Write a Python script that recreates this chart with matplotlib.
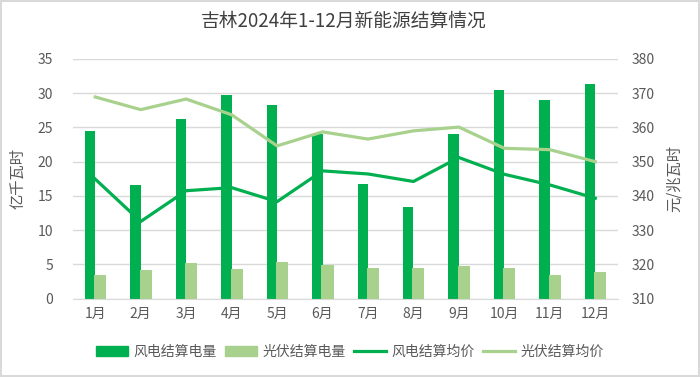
import numpy as np
import matplotlib.pyplot as plt
from matplotlib.patches import Patch
from matplotlib.lines import Line2D

plt.rcParams['font.family'] = ['Noto Sans CJK SC', 'DejaVu Sans']

months = ['1月', '2月', '3月', '4月', '5月', '6月', '7月', '8月', '9月', '10月', '11月', '12月']
wind_energy = [24.5, 16.6, 26.3, 29.8, 28.3, 24.0, 16.7, 13.4, 24.0, 30.4, 29.0, 31.3]
solar_energy = [3.4, 4.15, 5.2, 4.25, 5.4, 4.9, 4.5, 4.5, 4.8, 4.5, 3.4, 3.85]
wind_price = [344.9, 332.5, 341.5, 342.4, 338.3, 347.3, 346.4, 344.2, 351.2, 346.3, 343.2, 339.3]
solar_price = [368.9, 365.2, 368.3, 363.7, 354.6, 358.7, 356.6, 359.0, 360.1, 353.9, 353.5, 350.0]

dark = '#00B050'
light = '#A9D18E'
grey = '#595959'

fig = plt.figure(figsize=(7, 3.77), dpi=100)
fig.patch.set_edgecolor('#D9D9D9')
fig.patch.set_linewidth(1.5)
ax = fig.add_axes([72.5/700, 1 - 298.5/377, 545.5/700, 239.5/377])
ax2 = ax.twinx()

x = np.arange(len(months))
ax.bar(x - 0.115, wind_energy, width=0.23, color=dark, zorder=2)
ax.bar(x + 0.11, solar_energy, width=0.265, color=light, zorder=3)

ax2.plot(x, wind_price, color=dark, lw=2.3)
ax2.plot(x, solar_price, color=light, lw=2.3)

ax.set_xlim(-0.5, 11.5)
ax.set_ylim(0, 35)
ax2.set_ylim(310, 380)
ax.set_yticks(range(0, 36, 5))
ax2.set_yticks(range(310, 381, 10))
ax.set_xticks(x)
ax.set_xticklabels(months)
ax.yaxis.grid(True, color='#D9D9D9', lw=1, zorder=0)
ax.set_axisbelow(True)
for a in (ax, ax2):
    for s in a.spines.values():
        s.set_visible(False)
    a.tick_params(length=0, colors=grey, labelsize=10)
ax.spines['bottom'].set_visible(True)
ax.spines['bottom'].set_color('#D9D9D9')
ax.tick_params(axis='y', pad=14)
ax2.tick_params(axis='y', pad=10)
ax.tick_params(axis='x', pad=6)

ax.set_ylabel('亿千瓦时', color=grey, fontsize=11, labelpad=8)
ax2.set_ylabel('元/兆瓦时', color=grey, fontsize=11, rotation=90, labelpad=8)

fig.text(343.5/700, 1 - 21/377, '吉林2024年1-12月新能源结算情况', ha='center', va='center',
         fontsize=13.5, color='#404040')

handles = [Patch(color=dark), Patch(color=light),
           Line2D([], [], color=dark, lw=2.3), Line2D([], [], color=light, lw=2.3)]
labels = ['风电结算电量', '光伏结算电量', '风电结算均价', '光伏结算均价']
fig.legend(handles, labels, loc='center', bbox_to_anchor=(0.5, 1 - 352/377), ncol=4,
           frameon=False, fontsize=10, labelcolor=grey, handlelength=2.3,
           handletextpad=0.4, columnspacing=0.6)

fig.savefig('out.png', dpi=100)
